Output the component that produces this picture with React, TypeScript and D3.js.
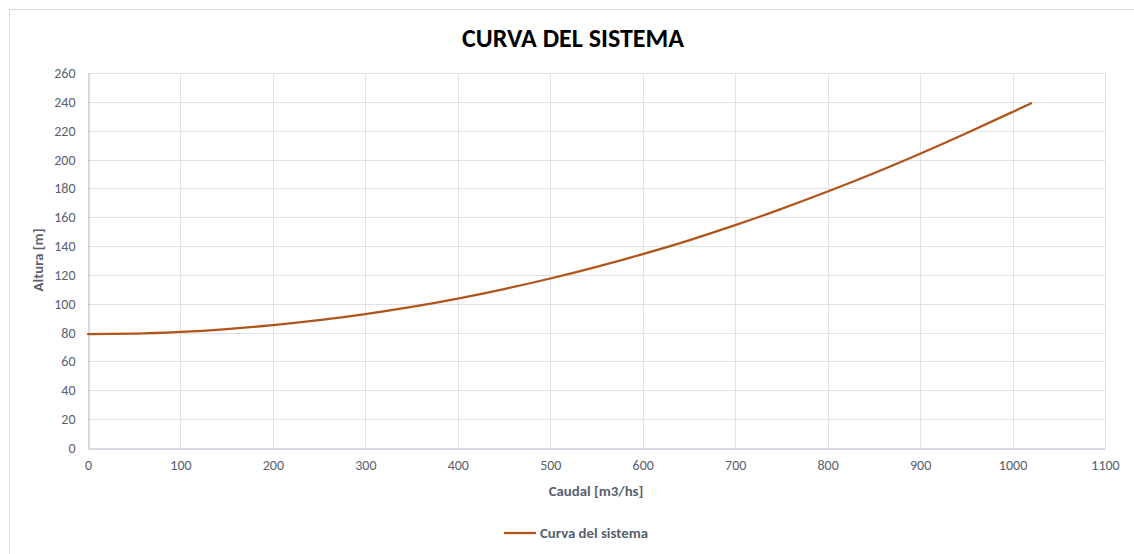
import { useEffect, useRef } from "react";
import * as d3 from "d3";

// Caudal [m3/hs] and Altura [m]
const caudal = [0, 50, 100, 150, 200, 250, 300, 350, 400, 450, 500, 550, 600, 650, 700, 750, 800, 850, 900, 950, 1000, 1020];
const altura = [79, 79.3, 80.5, 82.5, 85.2, 88.6, 92.8, 97.8, 103.6, 110.2, 117.5, 125.6, 134.4, 144, 154.5, 165.8, 177.8, 190.5, 204, 218.2, 233, 239];
const xTicks = [0, 100, 200, 300, 400, 500, 600, 700, 800, 900, 1000, 1100];
const yTicks = [0, 20, 40, 60, 80, 100, 120, 140, 160, 180, 200, 220, 240, 260];

const W = 1134;
const H = 554;
const FONT = "Carlito, Lato, 'Open Sans', sans-serif";
const TEXT = "#595f6e";
const LINE = "#b0541a";

export default function App() {
  const ref = useRef<SVGSVGElement>(null);

  useEffect(() => {
    if (!ref.current) return;
    const svg = d3.select(ref.current);
    svg.selectAll("*").remove();

    const margin = { top: 73, right: 29, bottom: 106, left: 88 };

    // chart frame
    svg.append("rect")
      .attr("x", 9.5).attr("y", 9.5)
      .attr("width", W).attr("height", H)
      .attr("fill", "#fff")
      .attr("stroke", "#d9d9d9");

    const x = d3.scaleLinear().domain([0, 1100]).range([margin.left, W - margin.right]);
    const y = d3.scaleLinear().domain([0, 260]).range([H - margin.bottom, margin.top]);

    // gridlines
    const grid = svg.append("g").attr("stroke", "#dde2ea").attr("stroke-width", 1);
    grid.selectAll("line.h").data(yTicks.filter(d => d > 0)).join("line")
      .attr("class", "h")
      .attr("x1", x(0)).attr("x2", x(1100))
      .attr("y1", d => Math.round(y(d)) + 0.5).attr("y2", d => Math.round(y(d)) + 0.5);
    grid.selectAll("line.v").data(xTicks.filter(d => d > 0)).join("line")
      .attr("class", "v")
      .attr("y1", y(0)).attr("y2", y(260))
      .attr("x1", d => Math.round(x(d)) + 0.5).attr("x2", d => Math.round(x(d)) + 0.5);

    // axes
    const fmt = d3.format("d");
    const xAxis = svg.append("g")
      .attr("transform", `translate(0,${Math.round(y(0)) + 0.5})`)
      .call(d3.axisBottom(x).tickValues(xTicks).tickFormat(d => fmt(d as number)).tickSize(0).tickPadding(12));
    const yAxis = svg.append("g")
      .attr("transform", `translate(${Math.round(x(0)) + 0.5},0)`)
      .call(d3.axisLeft(y).tickValues(yTicks).tickFormat(d => fmt(d as number)).tickSize(0).tickPadding(13));
    [xAxis, yAxis].forEach(g => {
      g.select(".domain").attr("stroke", "#a9b5c8");
      g.selectAll("text")
        .attr("fill", TEXT)
        .attr("font-family", FONT)
        .attr("font-size", 14);
    });

    // curve
    const line = d3.line<number>()
      .x((_, i) => x(caudal[i]))
      .y(d => y(d))
      .curve(d3.curveMonotoneX);
    svg.append("path")
      .datum(altura)
      .attr("d", line)
      .attr("fill", "none")
      .attr("stroke", LINE)
      .attr("stroke-width", 2.25)
      .attr("stroke-linecap", "round");

    // title
    svg.append("text")
      .attr("x", 573).attr("y", 47)
      .attr("text-anchor", "middle")
      .attr("font-family", FONT)
      .attr("font-weight", "bold")
      .attr("font-size", 26)
      .attr("fill", "#000")
      .text("CURVA DEL SISTEMA");

    // axis titles
    svg.append("text")
      .attr("x", 596).attr("y", 496)
      .attr("text-anchor", "middle")
      .attr("font-family", FONT)
      .attr("font-weight", "bold")
      .attr("font-size", 14.8)
      .attr("fill", TEXT)
      .text("Caudal [m3/hs]");
    svg.append("text")
      .attr("transform", "translate(43,260) rotate(-90)")
      .attr("text-anchor", "middle")
      .attr("font-family", FONT)
      .attr("font-weight", "bold")
      .attr("font-size", 14.8)
      .attr("fill", TEXT)
      .text("Altura [m]");

    // legend
    svg.append("line")
      .attr("x1", 504).attr("x2", 536)
      .attr("y1", 533).attr("y2", 533)
      .attr("stroke", LINE).attr("stroke-width", 2.25);
    svg.append("text")
      .attr("x", 540).attr("y", 538)
      .attr("font-family", FONT)
      .attr("font-weight", "bold")
      .attr("font-size", 14.8)
      .attr("fill", TEXT)
      .text("Curva del sistema");
  }, []);

  return (
    <svg ref={ref} width={W} height={H} style={{ position: "absolute", left: 0, top: 0 }} />
  );
}
